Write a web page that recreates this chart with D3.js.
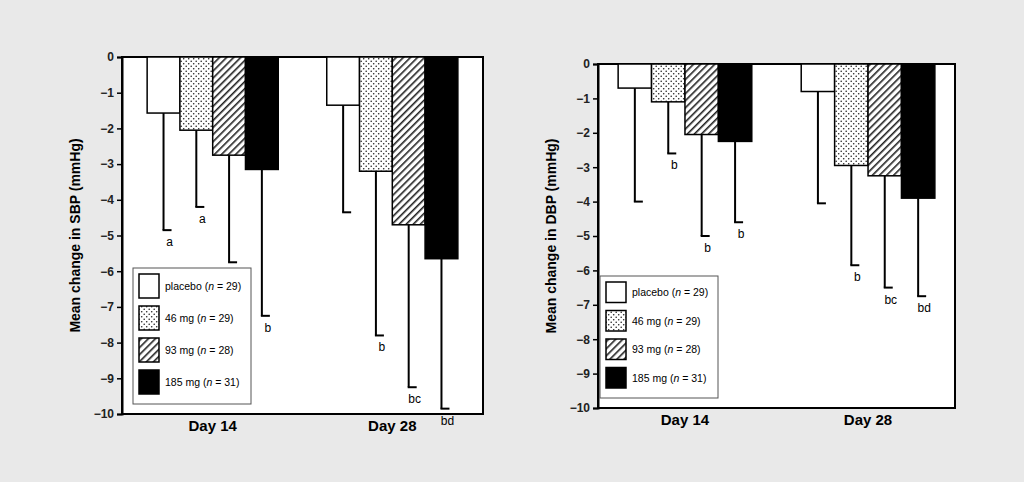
<!DOCTYPE html>
<html><head><meta charset="utf-8">
<script src="https://cdn.jsdelivr.net/npm/d3@7"></script>
<style>
body{margin:0;background:#e9e9e9;}
svg{font-family:"Liberation Sans",Arial,sans-serif;}
</style></head><body>
<svg id="chart" width="1024" height="482"></svg>
<script>
// data
var groups = ["Day 14", "Day 28"];
var series = ["placebo", "46 mg", "93 mg", "185 mg"];
var nCounts = [29, 29, 28, 31];
var yTicks = [0, -1, -2, -3, -4, -5, -6, -7, -8, -9, -10];

var sbpMeans = [[-1.57, -2.05, -2.75, -3.15], [-1.35, -3.2, -4.7, -5.65]];
var sbpLow = [[-4.85, -4.2, -5.75, -7.25], [-4.35, -7.8, -9.25, -9.85]];
var sbpSig = [["a", "a", "b", "b"], ["", "b", "bc", "bd"]];

var dbpMeans = [[-0.7, -1.1, -2.05, -2.25], [-0.8, -2.95, -3.25, -3.9]];
var dbpLow = [[-4.0, -2.6, -5.0, -4.6], [-4.05, -5.85, -6.5, -6.75]];
var dbpSig = [["", "b", "b", "b"], ["", "b", "bc", "bd"]];

var svg = d3.select("#chart");
var defs = svg.append("defs");

// fill patterns
var dots = defs.append("pattern").attr("id", "dots").attr("patternUnits", "userSpaceOnUse")
  .attr("width", 5).attr("height", 5);
dots.append("rect").attr("width", 5).attr("height", 5).attr("fill", "white");
dots.append("circle").attr("cx", 1.2).attr("cy", 1.2).attr("r", 0.8).attr("fill", "#222");
dots.append("circle").attr("cx", 3.7).attr("cy", 3.7).attr("r", 0.8).attr("fill", "#222");

var hatch = defs.append("pattern").attr("id", "hatch").attr("patternUnits", "userSpaceOnUse")
  .attr("width", 5).attr("height", 5).attr("patternTransform", "rotate(45)");
hatch.append("rect").attr("width", 5).attr("height", 5).attr("fill", "white");
hatch.append("rect").attr("width", 1.6).attr("height", 5).attr("fill", "#222");

var fills = ["white", "url(#dots)", "url(#hatch)", "#000"];

function drawPanel(opt) {
  var g = svg.append("g");
  var y = d3.scaleLinear().domain([0, -10]).range([opt.top, opt.bottom]);
  var x0 = d3.scaleBand().domain(groups).range([opt.left, opt.right]).paddingInner(0.27).paddingOuter(opt.pad);
  var x1 = d3.scaleBand().domain(series).range([0, x0.bandwidth()]);

  g.append("rect").attr("x", opt.left).attr("y", opt.top)
    .attr("width", opt.right - opt.left).attr("height", opt.bottom - opt.top)
    .attr("fill", "white").attr("stroke", "#000").attr("stroke-width", 2);

  groups.forEach(function (grp, gi) {
    series.forEach(function (s, si) {
      var bx = x0(grp) + x1(s);
      var cx = bx + x1.bandwidth() / 2;
      // error bar
      g.append("line").attr("x1", cx).attr("x2", cx)
        .attr("y1", y(opt.means[gi][si])).attr("y2", y(opt.low[gi][si]))
        .attr("stroke", "#000").attr("stroke-width", 2);
      g.append("line").attr("x1", cx - 1).attr("x2", cx + 8)
        .attr("y1", y(opt.low[gi][si])).attr("y2", y(opt.low[gi][si]))
        .attr("stroke", "#000").attr("stroke-width", 2);
      g.append("rect").attr("x", bx).attr("y", y(0))
        .attr("width", x1.bandwidth()).attr("height", y(opt.means[gi][si]) - y(0))
        .attr("fill", fills[si]).attr("stroke", "#000").attr("stroke-width", 1.5);
      if (opt.sig[gi][si]) {
        g.append("text").attr("x", cx + 6).attr("y", y(opt.low[gi][si]) + 16)
          .attr("text-anchor", "middle").attr("font-size", 12).attr("fill", "#000").text(opt.sig[gi][si]);
      }
    });
  });

  var yAxis = g.append("g").attr("transform", "translate(" + opt.left + ",0)")
    .call(d3.axisLeft(y).tickValues(yTicks).tickSize(5).tickFormat(d3.format("d")));
  yAxis.select(".domain").attr("stroke-width", 2);
  yAxis.selectAll("line").attr("stroke-width", 1.5);
  yAxis.selectAll("text").attr("font-size", 12).attr("font-weight", "bold").attr("fill", "#222")
    .attr("font-family", "Liberation Sans, Arial, sans-serif");

  groups.forEach(function (grp) {
    g.append("text").attr("x", x0(grp) + x0.bandwidth() / 2).attr("y", opt.bottom + 17)
      .attr("text-anchor", "middle").attr("font-size", 15).attr("font-weight", "bold").text(grp);
  });

  g.append("text").attr("transform", "translate(" + (opt.left - 42) + "," + ((opt.top + opt.bottom) / 2) + ") rotate(-90)")
    .attr("text-anchor", "middle").attr("font-size", 14).attr("font-weight", "bold").text(opt.label);

  // legend
  var lg = g.append("g").attr("transform", "translate(" + opt.legX + "," + opt.legY + ")");
  lg.append("rect").attr("width", 118).attr("height", opt.legH).attr("fill", "white")
    .attr("stroke", "#555").attr("stroke-width", 1);
  var step = (opt.legH - 8) / 4;
  series.forEach(function (s, si) {
    var ry = 6 + si * step;
    lg.append("rect").attr("x", 6).attr("y", ry).attr("width", 20).attr("height", step - 8)
      .attr("fill", fills[si]).attr("stroke", "#000").attr("stroke-width", 1.5);
    var t = lg.append("text").attr("x", 32).attr("y", ry + (step - 8) / 2 + 4).attr("font-size", 10.5);
    t.append("tspan").text(s + " (");
    t.append("tspan").attr("font-style", "italic").text("n");
    t.append("tspan").text(" = " + nCounts[si] + ")");
  });
}

drawPanel({left: 122, right: 483, top: 57, bottom: 414, pad: 0.14, means: sbpMeans, low: sbpLow, sig: sbpSig,
  label: "Mean change in SBP (mmHg)", legX: 133, legY: 268, legH: 136});
drawPanel({left: 598, right: 955, top: 64, bottom: 408, pad: 0.11, means: dbpMeans, low: dbpLow, sig: dbpSig,
  label: "Mean change in DBP (mmHg)", legX: 600, legY: 276, legH: 122});
</script>
</body></html>
